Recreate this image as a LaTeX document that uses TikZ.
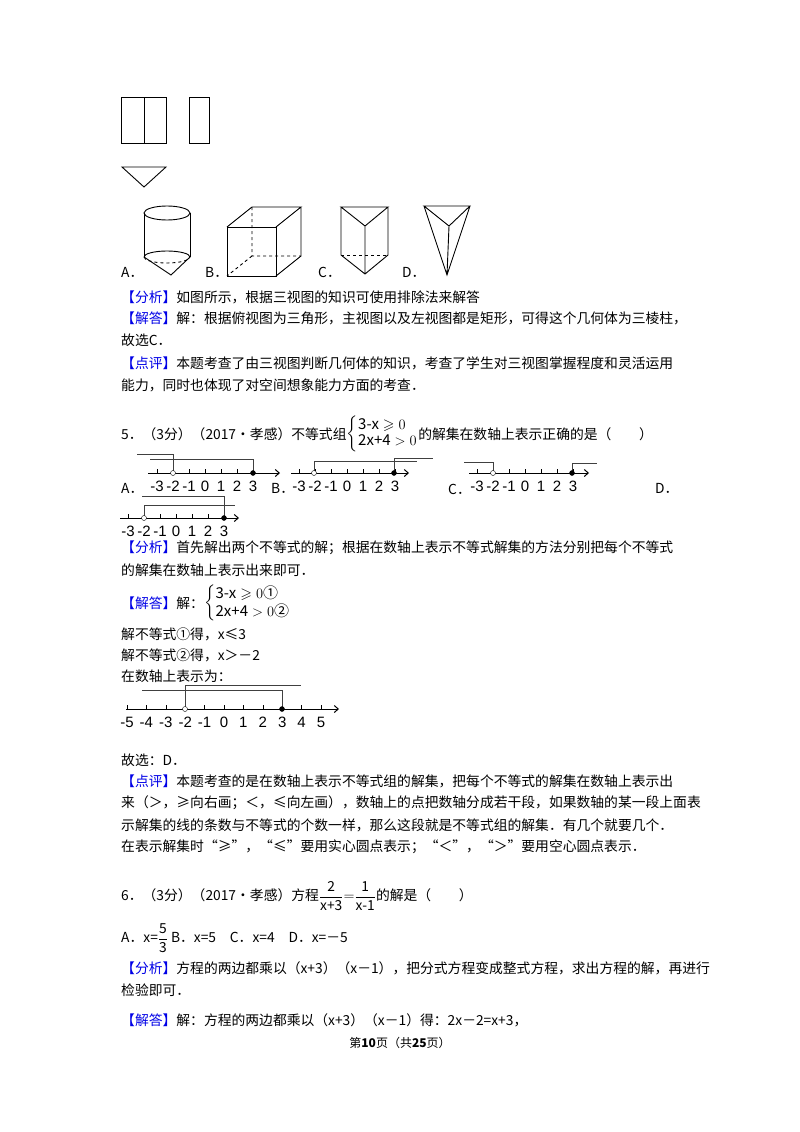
\documentclass[tikz,border=0pt]{standalone}
\usepackage{amsmath,amssymb}
\usepackage{fontspec}
\setmainfont{Noto Sans CJK SC}
\newfontfamily\numf{Liberation Sans}
\usetikzlibrary{arrows.meta}
\definecolor{tagblue}{RGB}{0,0,230}
\newcommand{\tg}[1]{\textcolor{tagblue}{【#1】}}
\begin{document}
\begin{tikzpicture}[x=1pt,y=-1pt,
  t/.style={anchor=west,inner sep=0pt,font=\fontsize{13.8}{14}\selectfont},
  fig/.style={line width=0.9pt},
  ax/.style={line width=1pt,-{Straight Barb[length=4pt,width=7pt]}},
  sol/.style={line width=0.8pt,draw=black!75},
  nl/.style={inner sep=0pt,font=\fontsize{15}{15}\selectfont\numf},
  oc/.style={circle,draw,fill=white,inner sep=0pt,minimum size=5pt},
  fc/.style={circle,draw,fill=black,inner sep=0pt,minimum size=5pt}]
\useasboundingbox (0,0) rectangle (800,1132);
% three views
\draw[fig] (121,97) rectangle (166,143) (144,97)--(144,143);
\draw[fig] (189,97) rectangle (209,143);
\draw[fig] (122,167)--(166,167)--(144,187)--cycle;
% A cylinder
\draw[fig] (167,213) ellipse (23 and 7);
\draw[fig] (144,213)--(144,257) (190,213)--(190,257);
\draw[fig,dashed] (144,257) arc (180:360:23 and -6);
\draw[fig] (144,257) arc (180:360:23 and 6);
\draw[fig] (144,257)--(171,275)--(190,257);
% B cube
\draw[fig] (227,227) rectangle (276,276);
\draw[fig] (227,227)--(252,207)--(301,207)--(276,227) (301,207)--(301,256)--(276,276);
\draw[fig,dashed] (252,207)--(252,256)--(301,256) (252,256)--(227,276);
% C prism
\draw[fig] (341,207)--(388,207)--(365,226)--cycle (341,207)--(341,255)--(365,274)--(388,255)--(388,207) (365,226)--(365,274);
\draw[fig,dashed] (341,255)--(388,255);
% D pyramid
\draw[fig] (424,206)--(470,206)--(449,226)--cycle (424,206)--(447,275)--(470,206) (449,226)--(447,275);
\node[t] (la) at (121,272) {A．};
\node[t] (lb) at (205,272) {B．};
\node[t] (lc) at (318,272) {C．};
\node[t] (ld) at (402,272) {D．};
% text block 1
\node[t] at (121,297) {\tg{分析}如图所示，根据三视图的知识可使用排除法来解答};
\node[t] at (121,318) {\tg{解答}解：根据俯视图为三角形，主视图以及左视图都是矩形，可得这个几何体为三棱柱，};
\node[t] at (121,340) {故选C．};
\node[t] at (121,363) {\tg{点评}本题考查了由三视图判断几何体的知识，考查了学生对三视图掌握程度和灵活运用};
\node[t] at (121,385) {能力，同时也体现了对空间想象能力方面的考查．};
% question 5
\node[t] (q5) at (121,434) {5．（3分）（2017•孝感）不等式组};
\node[anchor=west,inner sep=0pt,font=\fontsize{15}{15}\selectfont] (sys) at (q5.east) {$\left\{\begin{array}{@{}l@{}}\text{3-x}\geqslant 0\\[1pt] \text{2x+4}>0\end{array}\right.$};
\node[t] at (sys.east) {的解集在数轴上表示正确的是（　　）};
% A number line
\draw[ax] (148,473)--(280,473);
\foreach \i/\l in {0/-3,1/-2,2/-1,3/0,4/1,5/2,6/3}{\draw (157+16*\i,469)--(157+16*\i,473); \node[nl] at (157+16*\i,486) {\l};}
\draw[sol] (137,454)--(173,454)--(173,473) (150,459)--(253,459)--(253,473);
\node[oc] (a1) at (173,473) {}; \node[fc] (a2) at (253,473) {};
\node[t] at (121,488) {A．};
% B number line
\draw[ax] (291,473)--(409,473);
\foreach \i/\l in {0/-3,1/-2,2/-1,3/0,4/1,5/2,6/3}{\draw (299+16*\i,469)--(299+16*\i,473); \node[nl] at (299+16*\i,486) {\l};}
\draw[sol] (314,473)--(314,461)--(417,461) (394,473)--(394,458)--(433,458);
\node[oc] (b1) at (314,473) {}; \node[fc] (b2) at (394,473) {};
\node[t] at (271,488) {B．};
% C number line
\draw[ax] (469,473)--(589,473);
\foreach \i/\l in {0/-3,1/-2,2/-1,3/0,4/1,5/2,6/3}{\draw (477+16*\i,469)--(477+16*\i,473); \node[nl] at (477+16*\i,486) {\l};}
\draw[sol] (464,462)--(493,462)--(493,473) (572,473)--(572,463)--(597,463);
\node[oc] (c1) at (493,473) {}; \node[fc] (c2) at (572,473) {};
\node[t] at (448,489) {C．};
\node[t] at (655,488) {D．};
% D number line
\draw[ax] (120,518)--(239,518);
\foreach \i/\l in {0/-3,1/-2,2/-1,3/0,4/1,5/2,6/3}{\draw (128+16*\i,514)--(128+16*\i,518); \node[nl] at (128+16*\i,531) {\l};}
\draw[sol] (144,518)--(144,505)--(235,505) (224,518)--(224,496)--(142,496);
\node[oc] (d1) at (144,518) {}; \node[fc] (d2) at (224,518) {};
% solution
\node[t] at (121,548) {\tg{分析}首先解出两个不等式的解；根据在数轴上表示不等式解集的方法分别把每个不等式};
\node[t] at (121,570) {的解集在数轴上表示出来即可．};
\node[t] (s1) at (121,603) {\tg{解答}解：};
\node[anchor=west,inner sep=0pt,font=\fontsize{15}{15}\selectfont] at (s1.east) {$\left\{\begin{array}{@{}l@{}}\text{3-x}\geqslant 0\text{①}\\[1pt] \text{2x+4}>0\text{②}\end{array}\right.$};
\node[t] at (121,634) {解不等式①得，x≤3};
\node[t] at (121,655) {解不等式②得，x＞－2};
\node[t] at (121,676) {在数轴上表示为：};
\draw[ax] (126,709)--(339,709);
\foreach \i/\l in {0/-5,1/-4,2/-3,3/-2,4/-1,5/0,6/1,7/2,8/3,9/4,10/5}{\draw (127+19.4*\i,705)--(127+19.4*\i,709); \node[nl] at (127+19.4*\i,722) {\l};}
\draw[sol] (142,690)--(282,690)--(282,709) (185,709)--(185,685)--(301,685);
\node[oc] (e1) at (185,709) {}; \node[fc] (e2) at (282,709) {};
\node[t] at (121,760) {故选：D．};
\node[t] at (121,781) {\tg{点评}本题考查的是在数轴上表示不等式组的解集，把每个不等式的解集在数轴上表示出};
\node[t] at (121,803) {来（＞，≥向右画；＜，≤向左画），数轴上的点把数轴分成若干段，如果数轴的某一段上面表};
\node[t] at (121,825) {示解集的线的条数与不等式的个数一样，那么这段就是不等式组的解集．有几个就要几个．};
\node[t] at (121,847) {在表示解集时“≥”，“≤”要用实心圆点表示；“＜”，“＞”要用空心圆点表示．};
% question 6
\node[t] (q6) at (121,896) {6．（3分）（2017•孝感）方程$\dfrac{\text{2}}{\text{x+3}}{=}\dfrac{\text{1}}{\text{x-1}}$的解是（　　）};
\node[t] at (121,938) {A．x=$\dfrac{\text{5}}{\text{3}}$ B．x=5　C．x=4　D．x=－5};
\node[t] at (121,968) {\tg{分析}方程的两边都乘以（x+3）（x－1），把分式方程变成整式方程，求出方程的解，再进行};
\node[t] at (121,990) {检验即可．};
\node[t] at (121,1020) {\tg{解答}解：方程的两边都乘以（x+3）（x－1）得：2x－2=x+3，};
\node[inner sep=0pt,font=\fontsize{12}{12}\selectfont] at (400,1043) {第\textbf{10}页（共\textbf{25}页）};
\end{tikzpicture}
\end{document}
